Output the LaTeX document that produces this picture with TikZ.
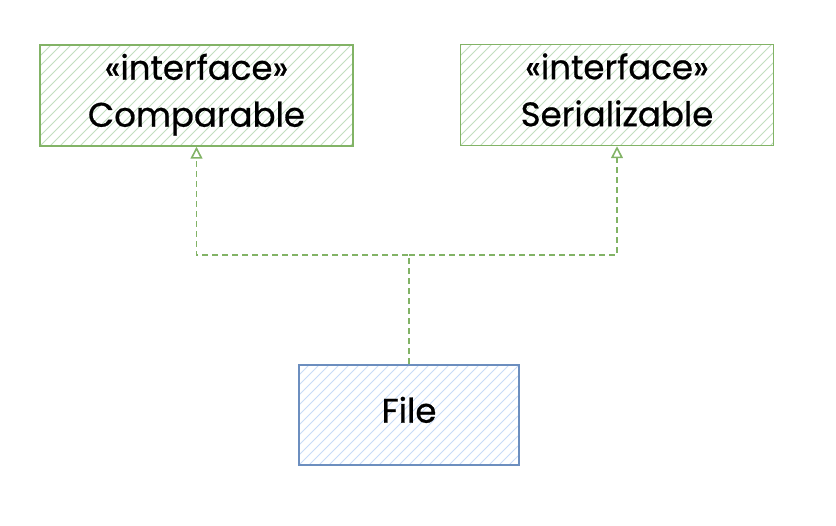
\documentclass[tikz,border=0pt]{standalone}
\usepackage{fontspec}
\setmainfont{Poppins}
\newfontfamily\hand[FakeBold=0.7]{Poppins}
\usetikzlibrary{arrows.meta}
\definecolor{gstroke}{HTML}{82B366}
\definecolor{gfill}{HTML}{C2DEBF}
\definecolor{bstroke}{HTML}{6C8EBF}
\definecolor{bfill}{HTML}{C7DBF7}
\newcommand\lnstrut{\rule[-0.31em]{0pt}{0.99em}}
\tikzset{
  hatch/.style={path picture={
    \foreach \k in {-400,-390,...,400}{
      \draw[#1,line width=1pt] ([xshift=\k pt]path picture bounding box.south west) -- ++(120pt,120pt);
    }}},
  ibox/.style={draw=gstroke,line width=1.5pt,fill=white,hatch=gfill,minimum width=313pt,minimum height=101pt,
    align=center,font=\hand\fontsize{34}{47}\selectfont,inner sep=0pt},
  fbox/.style={draw=bstroke,line width=1.5pt,fill=white,hatch=bfill,minimum width=220pt,minimum height=100pt,
    align=center,font=\hand\fontsize{34}{47}\selectfont,inner sep=0pt},
  dep/.style={draw=gstroke,line width=1.6pt,dash pattern=on 6pt off 4pt,
    -{Triangle[open,length=12pt,width=12pt,line width=1.6pt]}}
}
\begin{document}
\begin{tikzpicture}[x=1pt,y=-1pt]
\useasboundingbox (0,0) rectangle (836,526);
\node[ibox] (comp) at (196.5,95.5) {\lnstrut«interface»\\\lnstrut Comparable};
\node[ibox] (ser) at (617,95) {\lnstrut«interface»\\\lnstrut Serializable};
\node[fbox] (file) at (409,415) {\lnstrut File};
\coordinate (j) at (409,255);
\draw[dep] (file.north) -- (j) -| (comp.south);
\draw[dep] (j) -| (ser.south);
\end{tikzpicture}
\end{document}
